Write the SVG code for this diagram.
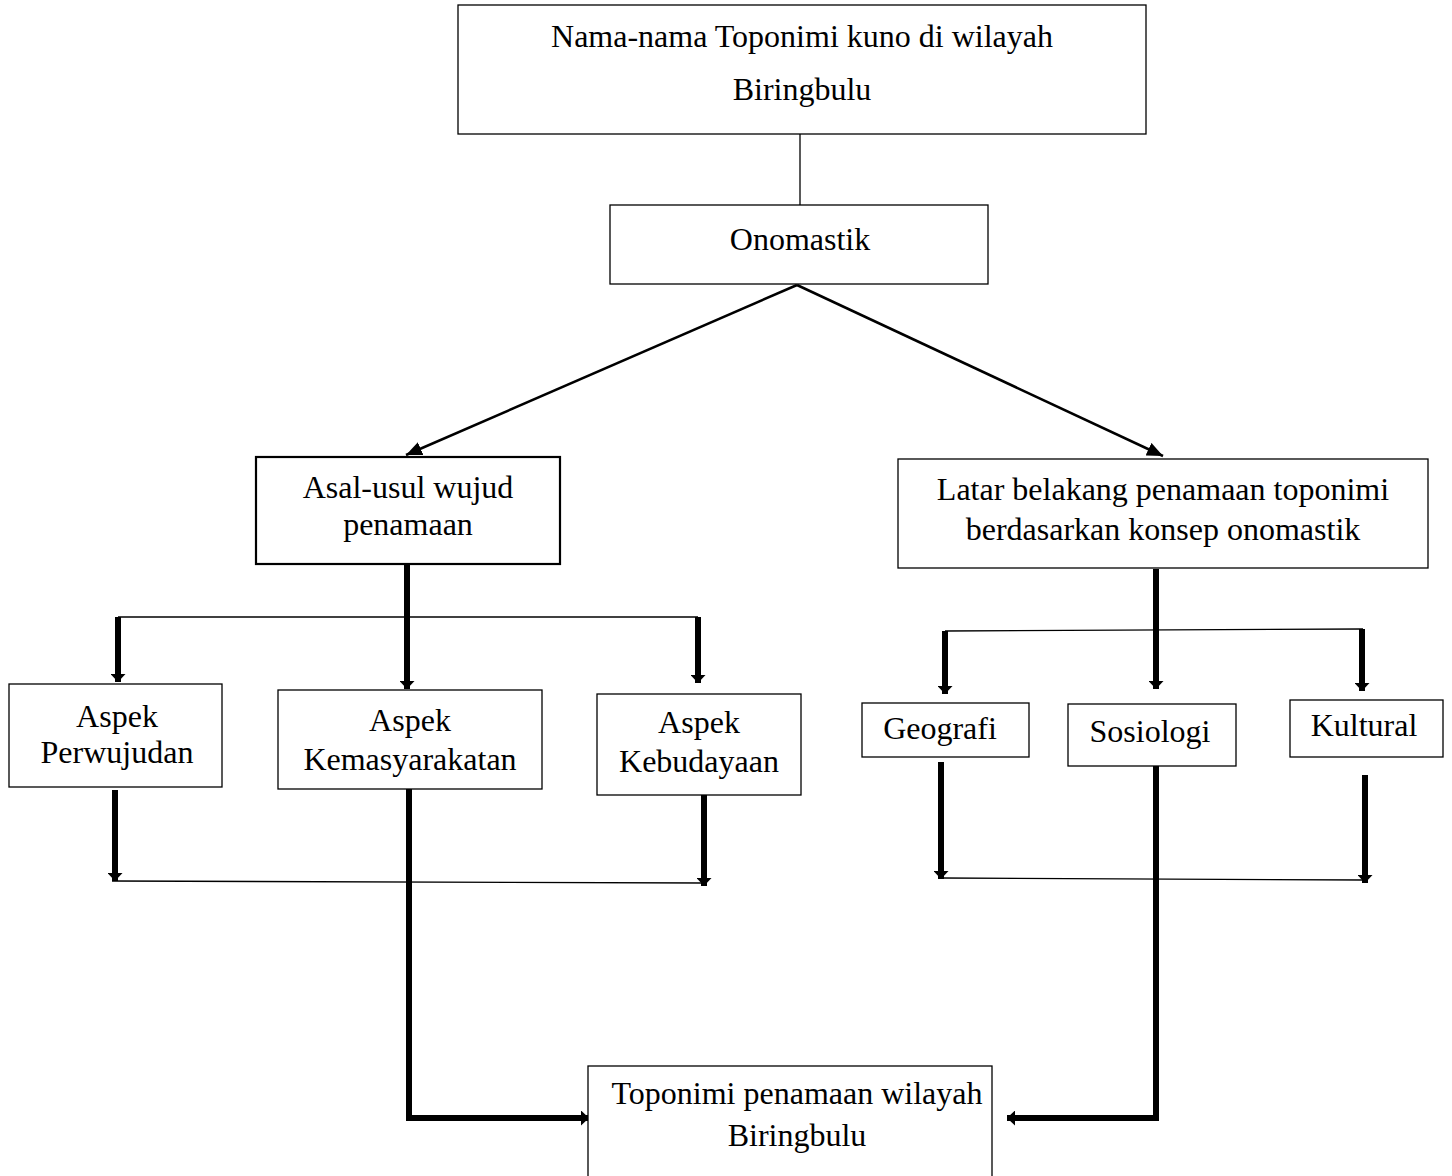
<svg xmlns="http://www.w3.org/2000/svg" width="1452" height="1176" viewBox="0 0 1452 1176">
<style>
.box{fill:#fff;stroke:#000;stroke-width:1.3}
.boxb{fill:#fff;stroke:#000;stroke-width:2.2}
.t{font-family:"Liberation Serif","Times New Roman",serif;font-size:32px;fill:#000;text-anchor:middle}
.thin{stroke:#000;stroke-width:1.3;fill:none}
.diag{stroke:#000;stroke-width:2.5;fill:none}
.thick{stroke:#000;stroke-width:6;fill:none}
</style>
<defs>
<marker id="ah" markerUnits="userSpaceOnUse" viewBox="0 0 16 14" refX="16" refY="7" markerWidth="16" markerHeight="14" orient="auto">
<path d="M0,0 L16,7 L0,14 z" fill="#000"/>
</marker>
<marker id="tk" markerUnits="userSpaceOnUse" viewBox="0 0 8 15" refX="8" refY="7.5" markerWidth="8" markerHeight="15" orient="auto">
<path d="M0,0 L8,7.5 L0,15 z" fill="#000"/>
</marker>
</defs>
<g id="connectors">
<line class="thin" x1="800" y1="134" x2="800" y2="205"/>
<line class="diag" x1="797" y1="285" x2="406" y2="455" marker-end="url(#ah)"/>
<line class="diag" x1="797" y1="285" x2="1163" y2="456" marker-end="url(#ah)"/>
<line class="thick" x1="407" y1="565" x2="407" y2="689" marker-end="url(#tk)"/>
<line class="thin" x1="118" y1="617" x2="698" y2="617"/>
<line class="thick" x1="118" y1="617" x2="118" y2="682" marker-end="url(#tk)"/>
<line class="thick" x1="698" y1="617" x2="698" y2="683" marker-end="url(#tk)"/>
<line class="thick" x1="115" y1="790" x2="115" y2="881" marker-end="url(#tk)"/>
<line class="thick" x1="704" y1="795" x2="704" y2="886" marker-end="url(#tk)"/>
<line class="thin" x1="112" y1="881" x2="704" y2="883"/>
<path class="thick" d="M409,789 L409,1118 L589,1118" marker-end="url(#tk)"/>
<line class="thick" x1="1156" y1="569" x2="1156" y2="689" marker-end="url(#tk)"/>
<line class="thin" x1="945" y1="631" x2="1363" y2="629"/>
<line class="thick" x1="945" y1="631" x2="945" y2="694" marker-end="url(#tk)"/>
<line class="thick" x1="1362" y1="629" x2="1362" y2="691" marker-end="url(#tk)"/>
<line class="thick" x1="941" y1="762" x2="941" y2="879" marker-end="url(#tk)"/>
<line class="thick" x1="1365" y1="775" x2="1365" y2="883" marker-end="url(#tk)"/>
<line class="thin" x1="941" y1="878" x2="1365" y2="880"/>
<path class="thick" d="M1156,766 L1156,1118 L1007,1118" marker-end="url(#tk)"/>
</g>
<g id="n-top">
<rect class="box" x="458" y="5" width="688" height="129"/>
<text class="t" x="802" y="47">Nama-nama Toponimi kuno di wilayah</text>
<text class="t" x="802" y="100">Biringbulu</text>
</g>
<g id="n-onomastik">
<rect class="box" x="610" y="205" width="378" height="79"/>
<text class="t" x="800" y="250">Onomastik</text>
</g>
<g id="n-asal">
<rect class="boxb" x="256" y="457" width="304" height="107"/>
<text class="t" x="408" y="498">Asal-usul wujud</text>
<text class="t" x="408" y="535">penamaan</text>
</g>
<g id="n-latar">
<rect class="box" x="898" y="459" width="530" height="109"/>
<text class="t" x="1163" y="500">Latar belakang penamaan toponimi</text>
<text class="t" x="1163" y="540">berdasarkan konsep onomastik</text>
</g>
<g id="n-perwujudan">
<rect class="box" x="9" y="684" width="213" height="103"/>
<text class="t" x="117" y="727">Aspek</text>
<text class="t" x="117" y="763">Perwujudan</text>
</g>
<g id="n-kemasyarakatan">
<rect class="box" x="278" y="690" width="264" height="99"/>
<text class="t" x="410" y="731">Aspek</text>
<text class="t" x="410" y="770">Kemasyarakatan</text>
</g>
<g id="n-kebudayaan">
<rect class="box" x="597" y="694" width="204" height="101"/>
<text class="t" x="699" y="733">Aspek</text>
<text class="t" x="699" y="772">Kebudayaan</text>
</g>
<g id="n-geografi">
<rect class="box" x="862" y="703" width="167" height="54"/>
<text class="t" x="940" y="739">Geografi</text>
</g>
<g id="n-sosiologi">
<rect class="box" x="1068" y="704" width="168" height="62"/>
<text class="t" x="1150" y="742">Sosiologi</text>
</g>
<g id="n-kultural">
<rect class="box" x="1290" y="700" width="153" height="57"/>
<text class="t" x="1364" y="736">Kultural</text>
</g>
<g id="n-bottom">
<rect class="box" x="588" y="1066" width="404" height="120"/>
<text class="t" x="797" y="1104">Toponimi penamaan wilayah</text>
<text class="t" x="797" y="1146">Biringbulu</text>
</g>
</svg>
